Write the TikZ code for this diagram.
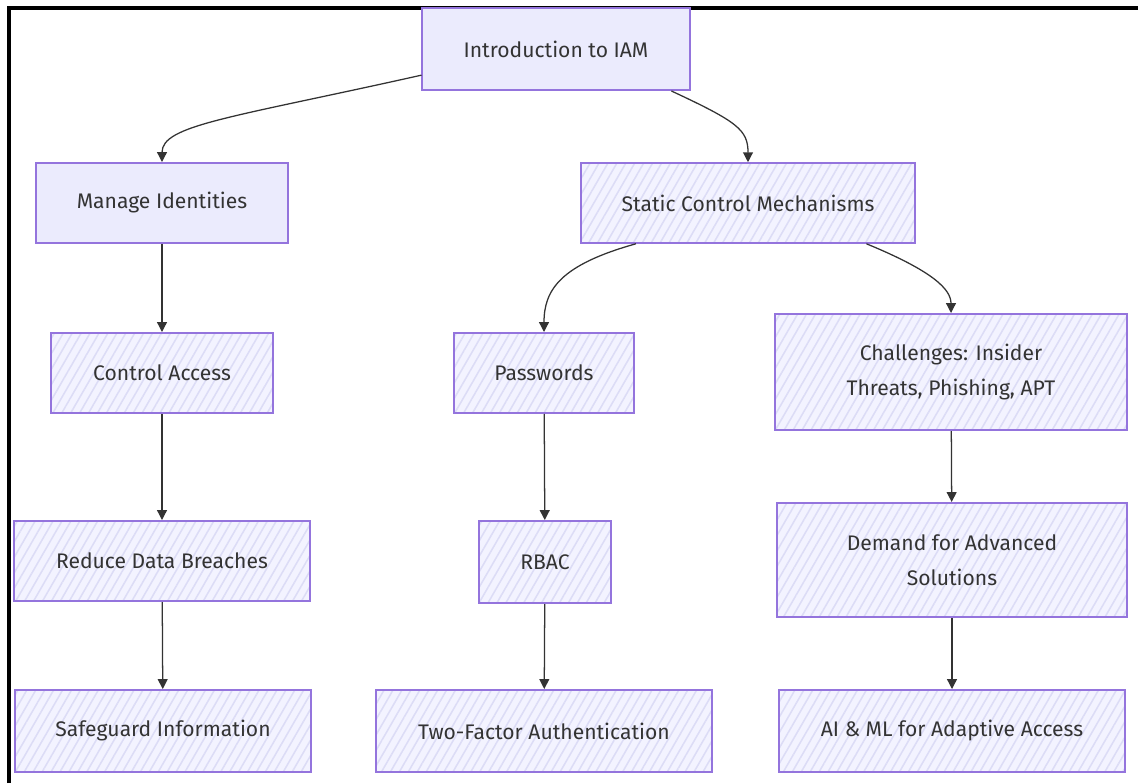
\documentclass[tikz,border=0pt]{standalone}
\usepackage{fontspec}
\setmainfont{Fira Sans}
\usetikzlibrary{arrows.meta,patterns.meta}
\definecolor{boxline}{HTML}{9474DD}
\definecolor{boxbg}{HTML}{F3F3FF}
\definecolor{boxsolid}{HTML}{EBEBFD}
\definecolor{hatch}{HTML}{DCDCF6}
\definecolor{txt}{HTML}{333333}
\definecolor{edgec}{HTML}{333333}
\tikzset{
  box/.style={draw=boxline, line width=1.4pt, preaction={fill=boxbg},
    pattern={Lines[angle=60,distance=5.5pt,line width=1.1pt]}, pattern color=hatch,
    text=txt, font=\fontsize{15}{25}\selectfont, align=center, inner sep=0pt},
  solidbox/.style={draw=boxline, line width=1.4pt, fill=boxsolid,
    text=txt, font=\fontsize{15}{25}\selectfont, align=center, inner sep=0pt},
  conn/.style={draw=edgec, line width=0.9pt, -{Triangle[length=7pt,width=7pt]}},
}
\begin{document}
\begin{tikzpicture}[x=0.025cm,y=-0.025cm]
\useasboundingbox (0,0) rectangle (1138,783);
\draw[line width=2.2pt] (9,783) -- (9,8) -- (1138,8);

\node[solidbox, minimum width=6.675cm, minimum height=2.05cm] (intro) at (556,49) {Introduction to IAM};
\node[solidbox, minimum width=6.3cm, minimum height=2.0cm] (manage) at (162,203) {Manage Identities};
\node[box, minimum width=8.35cm, minimum height=2.0cm] (static) at (748,203) {Static Control Mechanisms};
\node[box, minimum width=5.525cm, minimum height=2.0cm] (control) at (162,373) {Control Access};
\node[box, minimum width=4.475cm, minimum height=2.0cm] (pass) at (544,373) {Passwords};
\node[box, minimum width=8.8cm, minimum height=2.9cm] (chal) at (951,372) {Challenges: Insider\\Threats, Phishing, APT};
\node[box, minimum width=7.375cm, minimum height=2.0cm] (reduce) at (162,561) {Reduce Data Breaches};
\node[box, minimum width=3.3cm, minimum height=2.05cm] (rbac) at (545,562) {RBAC};
\node[box, minimum width=8.75cm, minimum height=2.85cm] (demand) at (952,560) {Demand for Advanced\\Solutions};
\node[box, minimum width=7.4cm, minimum height=2.05cm] (safe) at (163,731) {Safeguard Information};
\node[box, minimum width=8.4cm, minimum height=2.05cm] (twofa) at (544,731) {Two-Factor Authentication};
\node[box, minimum width=8.65cm, minimum height=2.05cm] (aiml) at (952,731) {AI \& ML for Adaptive Access};

\draw[conn] (intro.-169) .. controls (230,118) and (162,125) .. (manage.north);
\draw[conn] (intro.-20) .. controls (738,122) and (748,130) .. (static.north);
\draw[conn] (static.-160) .. controls (560,265) and (544,290) .. (pass.north);
\draw[conn] (static.-19) .. controls (935,272) and (951,290) .. (chal.north);
\draw[conn] (manage) -- (control);
\draw[conn] (control) -- (reduce);
\draw[conn] (reduce) -- (safe);
\draw[conn] (pass) -- (rbac);
\draw[conn] (rbac) -- (twofa);
\draw[conn] (chal) -- (demand);
\draw[conn] (demand) -- (aiml);
\end{tikzpicture}
\end{document}
